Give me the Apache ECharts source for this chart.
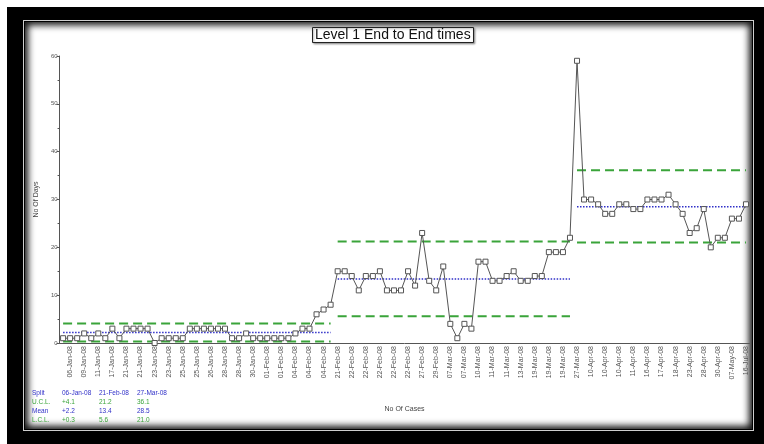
<!DOCTYPE html>
<html>
<head>
<meta charset="utf-8">
<title>Level 1 End to End times</title>
<script src="https://cdn.jsdelivr.net/npm/echarts@6/dist/echarts.min.js"></script>
<style>
    body { margin: 0; width: 764px; height: 444px; background: #fff; position: relative; overflow: hidden; }
    #frame { position: absolute; left: 7px; top: 7px; width: 757px; height: 437px; background: #000; }
    #edge { position: absolute; left: 23px; top: 20px; width: 731px; height: 411px; border: 1.5px solid #cfcfcf; box-sizing: border-box; }
    #main { position: absolute; left: 25px; top: 22px; width: 727px; height: 407px; background: #fff;
            box-shadow: inset 0 0 7px 3px rgba(0,0,0,0.95); }
</style>
</head>
<body>
<div id="frame"></div>
<div id="edge"></div>
<div id="main"></div>
<script>
// 每个案例的日期 (x轴)
var cases = [
    '06-Jan-08','06-Jan-08','08-Jan-08','09-Jan-08','10-Jan-08','11-Jan-08','14-Jan-08','17-Jan-08','18-Jan-08','21-Jan-08',
    '21-Jan-08','21-Jan-08','22-Jan-08','23-Jan-08','23-Jan-08','23-Jan-08','24-Jan-08','25-Jan-08','25-Jan-08','25-Jan-08',
    '25-Jan-08','26-Jan-08','27-Jan-08','28-Jan-08','28-Jan-08','28-Jan-08','29-Jan-08','30-Jan-08','31-Jan-08','01-Feb-08',
    '01-Feb-08','01-Feb-08','03-Feb-08','04-Feb-08','04-Feb-08','04-Feb-08','04-Feb-08','04-Feb-08','15-Feb-08','21-Feb-08',
    '22-Feb-08','22-Feb-08','22-Feb-08','22-Feb-08','22-Feb-08','22-Feb-08','22-Feb-08','22-Feb-08','22-Feb-08','22-Feb-08',
    '26-Feb-08','27-Feb-08','28-Feb-08','29-Feb-08','03-Mar-08','07-Mar-08','07-Mar-08','07-Mar-08','10-Mar-08','10-Mar-08',
    '11-Mar-08','11-Mar-08','11-Mar-08','11-Mar-08','12-Mar-08','13-Mar-08','17-Mar-08','19-Mar-08','19-Mar-08','19-Mar-08',
    '19-Mar-08','19-Mar-08','25-Mar-08','27-Mar-08','04-Apr-08','10-Apr-08','10-Apr-08','10-Apr-08','10-Apr-08','10-Apr-08',
    '11-Apr-08','11-Apr-08','14-Apr-08','16-Apr-08','16-Apr-08','17-Apr-08','17-Apr-08','18-Apr-08','22-Apr-08','23-Apr-08',
    '25-Apr-08','28-Apr-08','29-Apr-08','30-Apr-08','02-May-08','07-May-08','12-Jun-08','16-Jul-08'
];

// 天数
var days = [
    1,1,1,2,1,2,1,3,1,3, 3,3,3,0,1,1,1,1,3,3, 3,3,3,3,1,1,2,1,1,1, 1,1,1,2,3,3,6,7,8,
    15,15,14,11,14,14,15,11,11,11, 15,12,23,13,11,16,4,1,4,3, 17,17,13,13,14,15,13,13,14,14, 19,19,19,22,
    59,30,30,29,27,27,29,29,28,28, 30,30,30,31,29,27,23,24,28,20, 22,22,26,26,29
];

// 分段控制限
var splitStart = [0, 39, 73];
var splitLabels = ['06-Jan-08', '21-Feb-08', '27-Mar-08'];
var ucl = [4.1, 21.2, 36.1];
var mean = [2.2, 13.4, 28.5];
var lcl = [0.3, 5.6, 21.0];
var ucl1Text = ['+4.1', '21.2', '36.1'];
var mean1Text = ['+2.2', '13.4', '28.5'];
var lcl1Text = ['+0.3', '5.6', '21.0'];

var green = '#3aa43a';
var blue = '#3030c8';
var font = 'Liberation Sans, Arial, sans-serif';

var myChart = echarts.init(document.getElementById('main'));

function segLine(values, s) {
    var start = splitStart[s];
    var end = s < splitStart.length - 1 ? splitStart[s + 1] - 1 : cases.length - 1;
    return cases.map(function (c, i) { return (i >= start && i <= end) ? values[s] : null; });
}

var series = [];
for (var s = 0; s < splitStart.length; s++) {
    series.push({ type: 'line', data: segLine(ucl, s), symbol: 'none', silent: true,
        lineStyle: { color: green, width: 2, type: [9, 5] } });
    series.push({ type: 'line', data: segLine(lcl, s), symbol: 'none', silent: true,
        lineStyle: { color: green, width: 2, type: [9, 5] } });
    series.push({ type: 'line', data: segLine(mean, s), symbol: 'none', silent: true,
        lineStyle: { color: blue, width: 1.5, type: [1.5, 1.5] } });
}
series.push({
    name: 'No Of Days',
    type: 'line',
    data: days,
    symbol: 'rect',
    symbolSize: 5,
    showAllSymbol: true,
    z: 5,
    lineStyle: { color: '#555', width: 1 },
    itemStyle: { color: '#fff', borderColor: '#555', borderWidth: 1 }
});

// 左下角的表格
var rows = [
    { name: 'Split', vals: splitLabels, color: blue },
    { name: 'U.C.L.', vals: ucl1Text, color: green },
    { name: 'Mean', vals: mean1Text, color: blue },
    { name: 'L.C.L.', vals: lcl1Text, color: green }
];
var colX = [7, 37, 74, 112];
var graphics = [];
rows.forEach(function (r, k) {
    var y = 368 + k * 9;
    graphics.push({ type: 'text', left: colX[0], top: y,
        style: { text: r.name, fill: r.color, font: '6.5px ' + font } });
    r.vals.forEach(function (v, j) {
        graphics.push({ type: 'text', left: colX[j + 1], top: y,
            style: { text: v, fill: r.color, font: '6.5px ' + font } });
    });
});

var option = {
    animation: false,
    title: {
        text: 'Level 1 End to End times',
        left: 287,
        top: 5,
        padding: [1, 3],
        borderWidth: 1,
        borderColor: '#222',
        backgroundColor: '#fff',
        shadowColor: 'rgba(0,0,0,0.35)',
        shadowBlur: 2,
        shadowOffsetX: 1,
        shadowOffsetY: 1,
        textStyle: { fontSize: 14, fontWeight: 'normal', color: '#111', fontFamily: font }
    },
    grid: { left: 29.5, top: 34, right: 2.5, bottom: 86 },
    xAxis: {
        type: 'category',
        data: cases,
        boundaryGap: true,
        name: 'No Of Cases',
        nameLocation: 'middle',
        nameGap: 63,
        nameTextStyle: { fontSize: 7, color: '#444', fontFamily: font },
        axisLine: { lineStyle: { color: '#555', width: 1 } },
        axisTick: { alignWithLabel: true, interval: 0, length: 3, lineStyle: { color: '#555' } },
        axisLabel: {
            rotate: 90,
            fontSize: 7,
            color: '#555',
            fontFamily: font,
            margin: 3,
            interval: function (index) { return index % 2 === 1; }
        },
        splitLine: { show: false }
    },
    yAxis: {
        type: 'value',
        min: 0,
        max: 60,
        interval: 10,
        name: 'No Of Days',
        nameLocation: 'middle',
        nameGap: 14,
        nameTextStyle: { fontSize: 7, color: '#444', fontFamily: font },
        axisLine: { show: true, lineStyle: { color: '#555', width: 1 } },
        axisTick: { show: true, length: 3, lineStyle: { color: '#555' } },
        minorTick: { show: true, splitNumber: 2, length: 2, lineStyle: { color: '#555' } },
        axisLabel: { fontSize: 6, color: '#555', fontFamily: font, margin: 2 },
        splitLine: { show: false }
    },
    graphic: graphics,
    series: series
};

myChart.setOption(option);
</script>
</body>
</html>
